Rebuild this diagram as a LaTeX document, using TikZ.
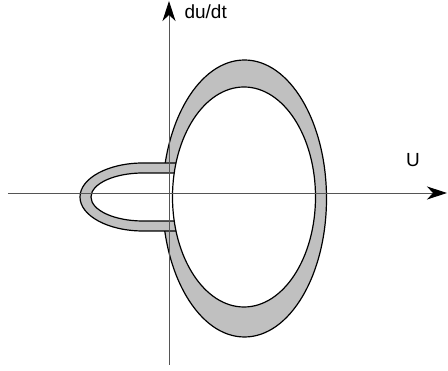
\documentclass[tikz,border=0pt]{standalone}
\usepackage{fontspec}
\setmainfont{Liberation Sans}
\usepackage{tikz}
\usetikzlibrary{arrows.meta}
\usepackage{xcolor}
\definecolor{bandgray}{RGB}{192,192,192}
\definecolor{axisgray}{RGB}{85,85,85}

\begin{document}
\begin{tikzpicture}[x=1pt, y=1pt,
    band/.style={fill=bandgray, draw=black, line width=1.2pt},
    hole/.style={fill=white, draw=black, line width=1.2pt},
    axis/.style={draw=axisgray, line width=0.9pt, -{Stealth[length=20pt, width=13pt, inset=6pt, color=black]}},
    lbl/.style={font=\fontsize{19}{22}\selectfont}]

    \useasboundingbox (-169,-178) rectangle (279,193);

    % 1. Outer ring of the big orbit
    \filldraw[band] (75.5,-5.5) ellipse [x radius=82, y radius=138.5];

    % 2. Small loop on the left
    \coordinate (H1) at (12,30);
    \coordinate (H2) at (12,-38);
    \filldraw[band] (H1) -- (-26,30) arc[start angle=90, end angle=270, x radius=63, y radius=34] -- (H2) -- cycle;
    \coordinate (H3) at (12,20);
    \coordinate (H4) at (12,-28);
    \filldraw[hole] (H3) -- (-26,20) arc[start angle=90, end angle=270, x radius=52, y radius=24] -- (H4) -- cycle;

    % 3. Inner boundary of the big orbit
    \filldraw[hole] (75,-4) ellipse [x radius=71.5, y radius=110];

    % 4. Axes
    \coordinate (xmin) at (-161,0);
    \coordinate (xmax) at (278,0);
    \coordinate (ymin) at (0,-172);
    \coordinate (ymax) at (0,192);
    \draw[axis] (xmin) -- (xmax);
    \draw[axis] (ymin) -- (ymax);

    % 5. Labels
    \node[lbl, anchor=west] (dudt) at (12,181) {du/dt};
    \node[lbl] (U) at (244,33) {U};

\end{tikzpicture}
\end{document}
